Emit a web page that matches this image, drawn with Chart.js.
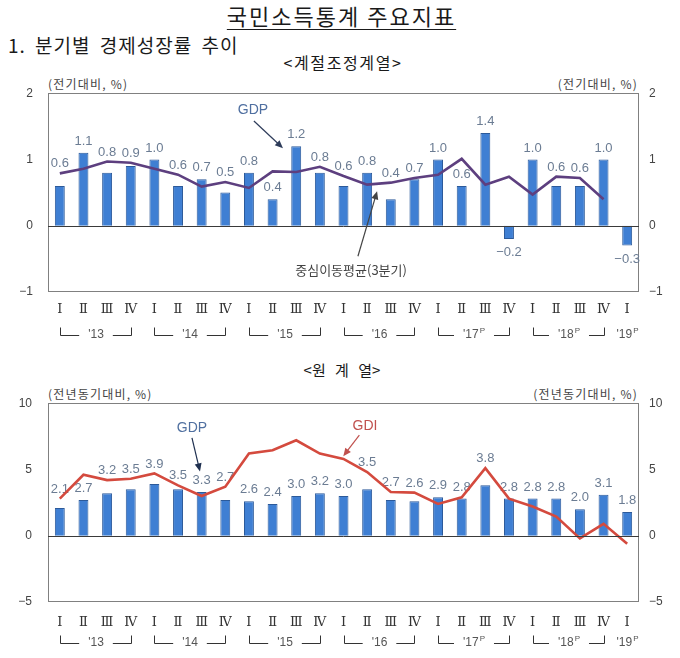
<!DOCTYPE html>
<html>
<head>
<meta charset="utf-8">
<script src="https://cdn.jsdelivr.net/npm/chart.js@4.4.1/dist/chart.umd.min.js"></script>
<style>
  body { margin: 0; background: #fff; }
  #page { position: relative; width: 680px; height: 658px; overflow: hidden; font-family: "Noto Sans CJK KR", sans-serif; color: #1a1a1a; }
  .txt { position: absolute; white-space: nowrap; line-height: 1; }
  canvas { position: absolute; left: 0; }
</style>
</head>
<body>
<div id="page">
  <div class="txt" style="left:0;width:683px;text-align:center;top:4px;font-size:22px;letter-spacing:2px;">
    <span style="text-decoration:underline;text-underline-offset:4px;text-decoration-thickness:1px;">국민소득통계 주요지표</span>
  </div>
  <div class="txt" style="left:8px;top:35px;font-size:19px;letter-spacing:1px;word-spacing:4px;">1. 분기별 경제성장률 추이</div>
  <div class="txt" style="left:0;width:686px;text-align:center;top:54px;font-size:16px;letter-spacing:1.6px;">&lt;계절조정계열&gt;</div>
  <div class="txt" style="left:48px;top:78px;font-size:12px;letter-spacing:1.2px;color:#444;">(전기대비, %)</div>
  <div class="txt" style="right:42px;top:78px;font-size:12px;letter-spacing:1.2px;color:#444;">(전기대비, %)</div>
  <div class="txt" style="left:0;width:684px;text-align:center;top:362px;font-size:15px;word-spacing:6px;">&lt;원 계 열&gt;</div>
  <div class="txt" style="left:48px;top:388px;font-size:12px;letter-spacing:1.2px;color:#444;">(전년동기대비, %)</div>
  <div class="txt" style="right:42px;top:388px;font-size:12px;letter-spacing:1.2px;color:#444;">(전년동기대비, %)</div>
  <canvas id="saChart" width="680" height="279" style="top:71px"></canvas>
  <canvas id="orChart" width="680" height="278" style="top:380px"></canvas>
</div>
<script>
// 분기 / 연도 라벨
const quarters = ['Ⅰ','Ⅱ','Ⅲ','Ⅳ','Ⅰ','Ⅱ','Ⅲ','Ⅳ','Ⅰ','Ⅱ','Ⅲ','Ⅳ','Ⅰ','Ⅱ','Ⅲ','Ⅳ','Ⅰ','Ⅱ','Ⅲ','Ⅳ','Ⅰ','Ⅱ','Ⅲ','Ⅳ','Ⅰ'];
const years = ["'13", "'14", "'15", "'16", "'17", "'18", "'19"];
const prelim = [false, false, false, false, true, true, true];

// 계절조정계열 (전기대비, %)
const gdpQoq = [0.6, 1.1, 0.8, 0.9, 1.0, 0.6, 0.7, 0.5, 0.8, 0.4, 1.2, 0.8, 0.6, 0.8, 0.4, 0.7, 1.0, 0.6, 1.4, -0.2, 1.0, 0.6, 0.6, 1.0, -0.3];
const gdpMovAvg = [0.79, 0.86, 0.97, 0.95, 0.86, 0.77, 0.59, 0.66, 0.57, 0.82, 0.81, 0.89, 0.75, 0.62, 0.65, 0.72, 0.77, 1.01, 0.62, 0.74, 0.47, 0.74, 0.72, 0.40, null];

// 원계열 (전년동기대비, %)
const gdpYoy = [2.1, 2.7, 3.2, 3.5, 3.9, 3.5, 3.3, 2.7, 2.6, 2.4, 3.0, 3.2, 3.0, 3.5, 2.7, 2.6, 2.9, 2.8, 3.8, 2.8, 2.8, 2.8, 2.0, 3.1, 1.8];
const gdiYoy = [2.8, 4.6, 4.2, 4.3, 4.7, 3.8, 3.0, 3.7, 6.2, 6.45, 7.2, 6.2, 5.8, 4.8, 3.3, 3.25, 2.4, 2.9, 5.1, 2.8, 2.2, 1.45, -0.2, 0.9, -0.6];

const minus = v => (v < 0 ? '−' + Math.abs(v) : '' + v);

function arrow(ctx, x1, y1, x2, y2, color) {
  const ang = Math.atan2(y2 - y1, x2 - x1);
  ctx.strokeStyle = color; ctx.fillStyle = color; ctx.lineWidth = 1.2;
  ctx.beginPath(); ctx.moveTo(x1, y1); ctx.lineTo(x2 - 5 * Math.cos(ang), y2 - 5 * Math.sin(ang)); ctx.stroke();
  ctx.beginPath();
  ctx.moveTo(x2, y2);
  ctx.lineTo(x2 - 8 * Math.cos(ang) + 3.5 * Math.sin(ang), y2 - 8 * Math.sin(ang) - 3.5 * Math.cos(ang));
  ctx.lineTo(x2 - 8 * Math.cos(ang) - 3.5 * Math.sin(ang), y2 - 8 * Math.sin(ang) + 3.5 * Math.cos(ang));
  ctx.closePath(); ctx.fill();
}

const decor = {
  id: 'decor',
  beforeDatasetsDraw(chart) {
    const { ctx, chartArea: a } = chart;
    ctx.save();
    // plot frame
    ctx.strokeStyle = '#808080'; ctx.lineWidth = 1;
    ctx.strokeRect(Math.round(a.left) + 0.5, Math.round(a.top) + 0.5, Math.round(a.width) - 1, Math.round(a.height) - 1);
    // value labels above/below bars, lifted over the line when it sits just above the bar
    const bars = chart.getDatasetMeta(0).data;
    const pts = chart.getDatasetMeta(1).data;
    const vals = chart.data.datasets[0].data;
    ctx.font = '13px "Liberation Sans"'; ctx.fillStyle = '#6b7c93'; ctx.textAlign = 'center';
    bars.forEach((bar, i) => {
      const v = vals[i];
      const s = (v < 0 ? '−' : '') + Math.abs(v).toFixed(1);
      if (v >= 0) {
        let ly = bar.y - 5;
        const p = pts[i];
        if (p && !p.skip && Number.isFinite(p.y) && p.y < bar.y && bar.y - p.y < 20) ly = p.y - 3;
        ctx.textBaseline = 'bottom'; ctx.fillText(s, bar.x, ly);
      } else { ctx.textBaseline = 'top'; ctx.fillText(s, bar.x, bar.y + 7); }
    });
    ctx.restore();
  },
  afterDatasetsDraw(chart) {
    const { ctx, chartArea: a, scales: { y } } = chart;
    ctx.save();
    const y0 = Math.round(y.getPixelForValue(0)) + 0.5;
    ctx.strokeStyle = '#3a3a3a'; ctx.lineWidth = 1;
    ctx.beginPath(); ctx.moveTo(a.left, y0); ctx.lineTo(a.right, y0); ctx.stroke();
    ctx.restore();
  },
  afterDraw(chart, args, o) {
    const { ctx, chartArea: a, scales: { x, y } } = chart;
    ctx.save();
    // quarter labels
    ctx.font = '13px "DejaVu Serif"'; ctx.fillStyle = '#333';
    ctx.textAlign = 'center'; ctx.textBaseline = 'middle';
    chart.data.labels.forEach((q, i) => ctx.fillText(q, x.getPixelForValue(i), a.bottom + o.qGap));

    // year brackets
    const yt = a.bottom + o.yearGap;
    const yl = Math.round(yt) + 0.5;
    years.forEach((lab, k) => {
      const i1 = k * 4, i2 = Math.min(k * 4 + 3, quarters.length - 1);
      const x1 = Math.round(x.getPixelForValue(i1)) + 0.5;
      const x2 = Math.round(x.getPixelForValue(i2)) + 0.5;
      ctx.font = '12px "Liberation Sans"';
      const w1 = ctx.measureText(lab).width;
      ctx.font = '8px "Liberation Sans"';
      const w2 = prelim[k] ? ctx.measureText('P').width + 1 : 0;
      const w = w1 + w2;
      const xm = (x1 + x2) / 2;
      ctx.fillStyle = '#555'; ctx.textAlign = 'left'; ctx.textBaseline = 'middle';
      ctx.font = '12px "Liberation Sans"';
      ctx.fillText(lab, xm - w / 2, yt);
      if (prelim[k]) { ctx.font = '8px "Liberation Sans"'; ctx.fillText('P', xm - w / 2 + w1 + 1, yt - 4); }
      if (i2 > i1) {
        ctx.strokeStyle = '#333'; ctx.lineWidth = 1;
        ctx.beginPath();
        ctx.moveTo(x1, yl - 8); ctx.lineTo(x1, yl); ctx.lineTo(xm - w / 2 - 9, yl);
        ctx.moveTo(xm + w / 2 + 9, yl); ctx.lineTo(x2, yl); ctx.lineTo(x2, yl - 8);
        ctx.stroke();
      }
    });

    // annotations
    const x0 = x.getPixelForValue(0), step = x.getPixelForValue(1) - x0;
    (o.notes || []).forEach(n => {
      ctx.font = n.font; ctx.fillStyle = n.color; ctx.textAlign = 'center'; ctx.textBaseline = 'middle';
      ctx.fillText(n.text, x0 + step * n.i, y.getPixelForValue(n.v));
    });
    (o.arrows || []).forEach(r => {
      arrow(ctx, x0 + step * r.i1, y.getPixelForValue(r.v1), x0 + step * r.i2, y.getPixelForValue(r.v2), r.color);
    });
    ctx.restore();
  }
};

function build(id, bars, line, lineColor, lim, opt) {
  return new Chart(document.getElementById(id), {
    type: 'bar',
    data: {
      labels: quarters,
      datasets: [
        { type: 'bar', data: bars, backgroundColor: '#3f7fd3', borderColor: '#2c5a9a', borderWidth: 1,
          barPercentage: 0.42, categoryPercentage: 1, order: 1 },
        { type: 'line', data: line, borderColor: lineColor, borderWidth: 2.6, pointRadius: 0,
          tension: 0, order: 0, spanGaps: false }
      ]
    },
    options: {
      responsive: false,
      animation: false,
      events: [],
      layout: { padding: 0 },
      plugins: { legend: { display: false }, tooltip: { enabled: false }, decor: opt },
      scales: {
        x: {
          grid: { display: false, drawTicks: false }, border: { display: false },
          ticks: { display: false },
          afterFit: s => { s.height = opt.xHeight; }
        },
        y: {
          position: 'left', min: lim[0], max: lim[1],
          grid: { display: false, drawTicks: false }, border: { display: false },
          ticks: { stepSize: lim[2], padding: opt.leftPad, color: '#444',
                   font: { family: 'Liberation Sans', size: 12 }, callback: minus },
          afterFit: s => { s.width = 48; }
        },
        y2: {
          position: 'right', min: lim[0], max: lim[1],
          grid: { display: false, drawTicks: false }, border: { display: false },
          ticks: { stepSize: lim[2], padding: 10, color: '#444',
                   font: { family: 'Liberation Sans', size: 12 }, callback: minus },
          afterFit: s => { s.width = 41; }
        }
      }
    },
    plugins: [decor]
  });
}

build('saChart', gdpQoq, gdpMovAvg, '#5d3f7f', [-1, 2, 1], {
  xHeight: 58, leftPad: 15, qGap: 18, yearGap: 43,
  notes: [
    { text: 'GDP', i: 8.17, v: 1.74, color: '#4f6fa0', font: '14px "Liberation Sans"' },
    { text: '중심이동평균(3분기)', i: 12.32, v: -0.67, color: '#444', font: '13px "Noto Sans CJK KR"' }
  ],
  arrows: [
    { i1: 8.21, v1: 1.58, i2: 9.44, v2: 1.17, color: '#2e3c5a' },
    { i1: 12.61, v1: -0.46, i2: 13.42, v2: 0.52, color: '#444' }
  ]
});

build('orChart', gdpYoy, gdiYoy, '#d44a3e', [-5, 10, 5], {
  xHeight: 56, leftPad: 16, qGap: 21, yearGap: 41,
  notes: [
    { text: 'GDP', i: 5.59, v: 8.14, color: '#5070a0', font: '14px "Liberation Sans"' },
    { text: 'GDI', i: 12.91, v: 8.29, color: '#c0504d', font: '14px "Liberation Sans"' }
  ],
  arrows: [
    { i1: 5.59, v1: 7.38, i2: 5.93, v2: 4.85, color: '#1f3050' },
    { i1: 12.67, v1: 7.59, i2: 11.99, v2: 6.0, color: '#c0504d' }
  ]
});
</script>
</body>
</html>
